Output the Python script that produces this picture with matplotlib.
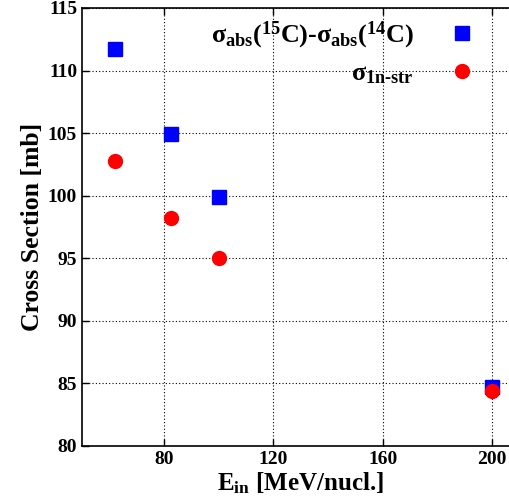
import numpy as np
import matplotlib
matplotlib.use("Agg")
import matplotlib.pyplot as plt

plt.rcParams['font.family'] = ['Liberation Serif', 'DejaVu Serif']
plt.rcParams['font.weight'] = 'bold'
plt.rcParams['mathtext.fontset'] = 'custom'
plt.rcParams['mathtext.rm'] = 'Liberation Serif:bold'
plt.rcParams['mathtext.it'] = 'Liberation Serif:bold'
plt.rcParams['mathtext.bf'] = 'Liberation Serif:bold'

# energies in MeV/nucl.
energy = [62, 82.6, 100, 200]
sigma_abs_diff = [111.7, 104.9, 99.9, 84.7]
sigma_1n_str = [102.8, 98.2, 95.0, 84.4]

xticks = [80, 120, 160, 200]
yticks = [80, 85, 90, 95, 100, 105, 110, 115]

fig = plt.figure(figsize=(5.10, 5.01), dpi=100)
# plot frame is cut off at the right edge of the image (as in the original)
ax = fig.add_axes([82/510, 55/501, 428/510, 438/501])

ax.plot(energy, sigma_abs_diff, 's', color='#0000ff', markersize=9.5,
        label=r'$\sigma_{abs}(^{15}$C)-$\sigma_{abs}(^{14}$C)', zorder=3)
ax.plot(energy, sigma_1n_str, 'o', color='#ff0000', markersize=10,
        label=r'$\sigma_{1n\text{-}str}$', zorder=4)

ax.set_xlim(50, 206.6)
ax.set_ylim(80, 115)
ax.set_xticks(xticks)
ax.set_yticks(yticks)
ax.grid(True, color='black', linestyle=(0, (1, 2)), linewidth=0.8)
ax.tick_params(direction='in', top=True, right=False, labelsize=14, length=5, width=1)
ax.spines['right'].set_visible(False)
for s in ax.spines.values():
    s.set_linewidth(1.2)

ax.set_xlabel(r'E$_{in}$ [MeV/nucl.]', fontsize=18, fontweight='bold')
ax.xaxis.set_label_coords(0.51, -0.056)
ax.set_ylabel('Cross Section [mb]', fontsize=18.5, fontweight='bold', labelpad=3)

leg = ax.legend(loc='upper right', bbox_to_anchor=(492/510, 1 - 9/501),
                bbox_transform=fig.transFigure, frameon=False, markerfirst=False,
                fontsize=18.8, labelspacing=0.42, handletextpad=1.1, handlelength=1.5,
                borderaxespad=0)

fig.savefig('out.png', dpi=100)
